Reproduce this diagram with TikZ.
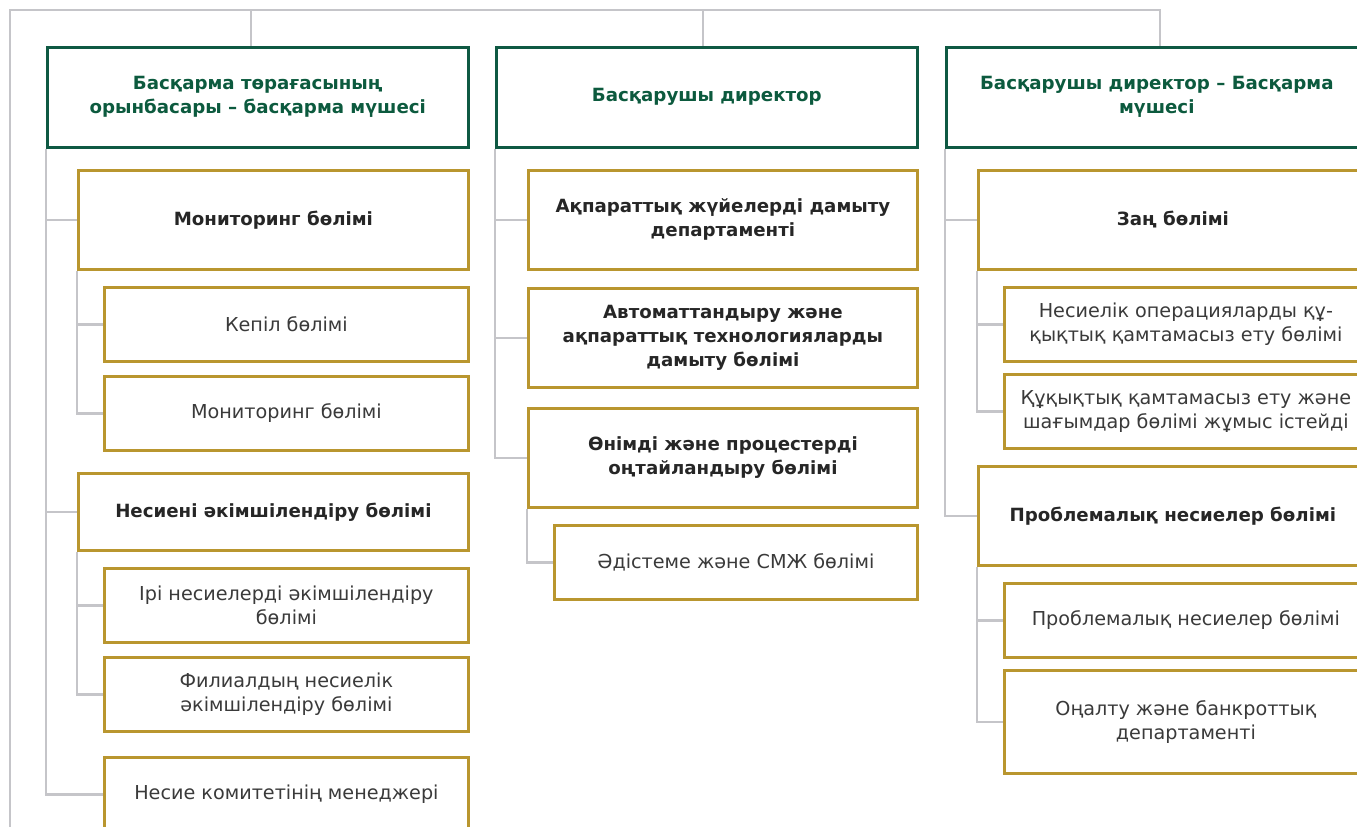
\documentclass[tikz,border=0pt]{standalone}
\usepackage{fontspec}
\setmainfont{DejaVu Sans}
\definecolor{lineg}{HTML}{C5C5C9}
\definecolor{dgreen}{HTML}{0F5943}
\definecolor{tgreen}{HTML}{0C5A3E}
\definecolor{gold}{HTML}{B9962F}
\definecolor{tbold}{HTML}{262626}
\definecolor{treg}{HTML}{3A3A3A}
\pgfdeclarelayer{bg}
\pgfsetlayers{bg,main}
\begin{document}
\begin{tikzpicture}[x=1pt,y=-1pt,
  conn/.style={draw=lineg, line width=2.8pt},
  base/.style={rectangle, fill=white, inner sep=0pt, anchor=north west, align=center},
  hd/.style={base, draw=dgreen, line width=2.6pt, minimum width=421pt, minimum height=100pt,
    text=tgreen, font=\bfseries\fontsize{18.2}{24}\selectfont},
  bx/.style={base, draw=gold, line width=2.8pt, minimum width=389pt, minimum height=99pt,
    text=tbold, font=\bfseries\fontsize{18.2}{24}\selectfont},
  sb/.style={base, draw=gold, line width=2.8pt, minimum width=363pt, minimum height=74pt,
    text=treg, font=\fontsize{19.2}{23.5}\selectfont}
]
\useasboundingbox (0,0) rectangle (1357,827);
\clip (0,0) rectangle (1357,827);

% column 1
\node[hd] (h1) at (46,46) {Басқарма төрағасының\\орынбасары – басқарма мүшесі};
\node[bx, minimum width=390pt] (a1) at (77,169) {Мониторинг бөлімі};
\node[sb, minimum width=364pt] (a1s1) at (103,286) {Кепіл бөлімі};
\node[sb, minimum width=364pt] (a1s2) at (103,375) {Мониторинг бөлімі};
\node[bx, minimum width=390pt, minimum height=77pt] (a2) at (77,472) {Несиені әкімшілендіру бөлімі};
\node[sb, minimum width=364pt] (a2s1) at (103,567) {Ірі несиелерді әкімшілендіру\\бөлімі};
\node[sb, minimum width=364pt] (a2s2) at (103,656) {Филиалдың несиелік\\әкімшілендіру бөлімі};
\node[sb, minimum width=364pt] (a3) at (103,756) {Несие комитетінің менеджері};

% column 2
\node[hd] (h2) at (495,46) {Басқарушы директор};
\node[bx] (b1) at (527,169) {Ақпараттық жүйелерді дамыту\\департаменті};
\node[bx] (b2) at (527,287) {Автоматтандыру және\\ақпараттық технологияларды\\дамыту бөлімі};
\node[bx] (b3) at (527,407) {Өнімді және процестерді\\оңтайландыру бөлімі};
\node[sb] (b3s1) at (553,524) {Әдістеме және СМЖ бөлімі};

% column 3
\node[hd] (h3) at (945,46) {Басқарушы директор – Басқарма\\мүшесі};
\node[bx] (c1) at (977,169) {Заң бөлімі};
\node[sb] (c1s1) at (1003,286) {Несиелік операцияларды құ-\\қықтық қамтамасыз ету бөлімі};
\node[sb] (c1s2) at (1003,373) {Құқықтық қамтамасыз ету және\\шағымдар бөлімі жұмыс істейді};
\node[bx] (c2) at (977,465) {Проблемалық несиелер бөлімі};
\node[sb] (c2s1) at (1003,582) {Проблемалық несиелер бөлімі};
\node[sb, minimum height=103pt] (c2s2) at (1003,669) {Оңалту және банкроттық\\департаменті};

\begin{pgfonlayer}{bg}
\coordinate (t0) at (10,10);
\coordinate (bot) at (10,827);
\coordinate (t1) at (251,10);
\coordinate (t2) at (703,10);
\coordinate (t3) at (1160,10);
\draw[conn] (bot) -- (t0) -- (t3) -- (t3 |- h3.north);
\draw[conn] (t1) -- (t1 |- h1.north);
\draw[conn] (t2) -- (t2 |- h2.north);
% col 1
\draw[conn] (h1.south west) |- (a1.west);
\draw[conn] (h1.south west) |- (a2.west);
\draw[conn] (h1.south west) |- (a3.west);
\draw[conn] (a1.south west) |- (a1s1.west);
\draw[conn] (a1.south west) |- (a1s2.west);
\draw[conn] (a2.south west) |- (a2s1.west);
\draw[conn] (a2.south west) |- (a2s2.west);
% col 2
\draw[conn] (h2.south west) |- (b1.west);
\draw[conn] (h2.south west) |- (b2.west);
\draw[conn] (h2.south west) |- (b3.west);
\draw[conn] (b3.south west) |- (b3s1.west);
% col 3
\draw[conn] (h3.south west) |- (c1.west);
\draw[conn] (h3.south west) |- (c2.west);
\draw[conn] (c1.south west) |- (c1s1.west);
\draw[conn] (c1.south west) |- (c1s2.west);
\draw[conn] (c2.south west) |- (c2s1.west);
\draw[conn] (c2.south west) |- (c2s2.west);
\end{pgfonlayer}
\end{tikzpicture}
\end{document}
